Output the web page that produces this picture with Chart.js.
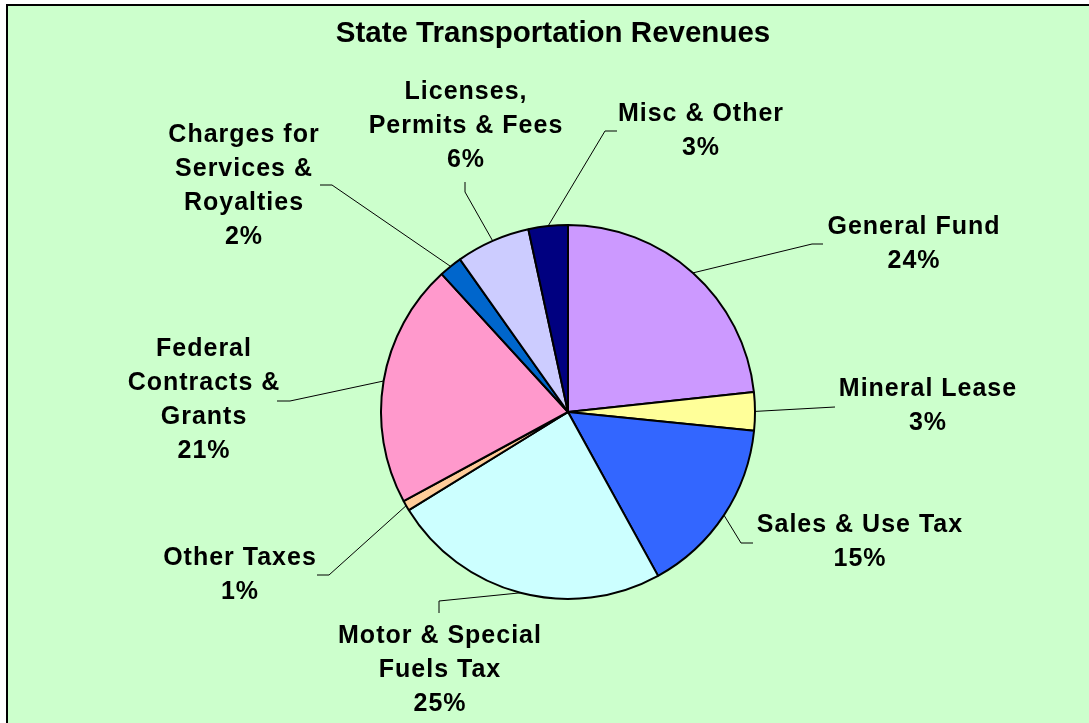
<!DOCTYPE html>
<html lang="en">

<head>
  <meta charset="UTF-8">
  <title>State Transportation Revenues</title>
  <!-- Chart.js -->
  <script src="https://cdn.jsdelivr.net/npm/chart.js"></script>
  <style>
    html, body { margin: 0; padding: 0; background: #ffffff; overflow: hidden; }
    .frame {
      position: absolute; left: 6px; top: 4px;
      width: 1083px; height: 719px;
      background: #CCFFCC;
      border-left: 2px solid #000; border-top: 2px solid #000;
    }
    canvas { display: block; }
  </style>
</head>

<body>
  <div class="frame">
    <canvas id="revenueChart" width="1081" height="717"></canvas>
  </div>

  <script>
    // Data (clockwise from 12 o'clock)
    const categories = [
      ['General Fund'],
      ['Mineral Lease'],
      ['Sales & Use Tax'],
      ['Motor & Special', 'Fuels Tax'],
      ['Other Taxes'],
      ['Federal', 'Contracts &', 'Grants'],
      ['Charges for', 'Services &', 'Royalties'],
      ['Licenses,', 'Permits & Fees'],
      ['Misc & Other']
    ];
    const shares = [23.3, 3.3, 15.4, 24.2, 0.9, 21.1, 2.0, 6.4, 3.4];
    const percentLabels = ['24%', '3%', '15%', '25%', '1%', '21%', '2%', '6%', '3%'];
    const sliceColors = ['#CC99FF', '#FFFF99', '#3366FF', '#CCFFFF', '#FFCC99', '#FF99CC', '#0066CC', '#CCCCFF', '#000080'];

    // Label layout, px offsets from pie centre at reference radius
    const REF_R = 187;
    const elbowPts = [[244, -168], [267, -5], [173, 131], [-129, 189], [-239, 163], [-278, -11], [-236, -227], [-103, -220], [37, -281]];
    const endPts = [[255, -168], [267, -5], [185, 131], [-129, 201], [-251, 163], [-291, -11], [-248, -227], [-103, -230], [49, -281]];
    const textPts = [[346, -178], [360, -16], [292, 120], [-128, 231], [-328, 153], [-364, -56], [-324, -270], [-102, -313], [133, -291]];
    const LINE_H = 34;

    const FONT = "'Liberation Sans', Arial, sans-serif";

    // Draws title, leader lines and outside labels
    const outsideLabels = {
      id: 'outsideLabels',
      afterDraw(chart) {
        const ctx = chart.ctx;
        const arcs = chart.getDatasetMeta(0).data;
        ctx.save();

        // title
        ctx.fillStyle = '#000';
        ctx.font = 'bold 29.5px ' + FONT;
        ctx.textAlign = 'center';
        ctx.textBaseline = 'alphabetic';
        ctx.fillText('State Transportation Revenues', 545, 36);

        arcs.forEach((arc, i) => {
          const s = arc.outerRadius / REF_R;
          const mid = (arc.startAngle + arc.endAngle) / 2;
          const sx = arc.x + Math.cos(mid) * arc.outerRadius;
          const sy = arc.y + Math.sin(mid) * arc.outerRadius;

          ctx.strokeStyle = '#000';
          ctx.lineWidth = 1;
          ctx.beginPath();
          ctx.moveTo(sx, sy);
          ctx.lineTo(arc.x + elbowPts[i][0] * s, arc.y + elbowPts[i][1] * s);
          ctx.lineTo(arc.x + endPts[i][0] * s, arc.y + endPts[i][1] * s);
          ctx.stroke();

          const lines = categories[i].concat([percentLabels[i]]);
          ctx.font = 'bold 25px ' + FONT;
          ctx.letterSpacing = '1px';
          const tx = arc.x + textPts[i][0] * s;
          const ty = arc.y + textPts[i][1] * s;
          lines.forEach((line, j) => {
            ctx.fillText(line, tx, ty + j * LINE_H * s);
          });
        });
        ctx.restore();
      }
    };

    const ctx = document.getElementById('revenueChart').getContext('2d');
    new Chart(ctx, {
      type: 'pie',
      data: {
        labels: categories.map(c => c.join(' ')),
        datasets: [{
          data: shares,
          backgroundColor: sliceColors,
          borderColor: '#000',
          borderWidth: 2
        }]
      },
      options: {
        responsive: false,
        animation: false,
        devicePixelRatio: 1,
        radius: 187,
        layout: { padding: { left: 239, right: 200, top: 195, bottom: 100 } },
        plugins: {
          legend: { display: false },
          tooltip: { enabled: false },
          title: { display: false }
        }
      },
      plugins: [outsideLabels]
    });
  </script>
</body>

</html>
